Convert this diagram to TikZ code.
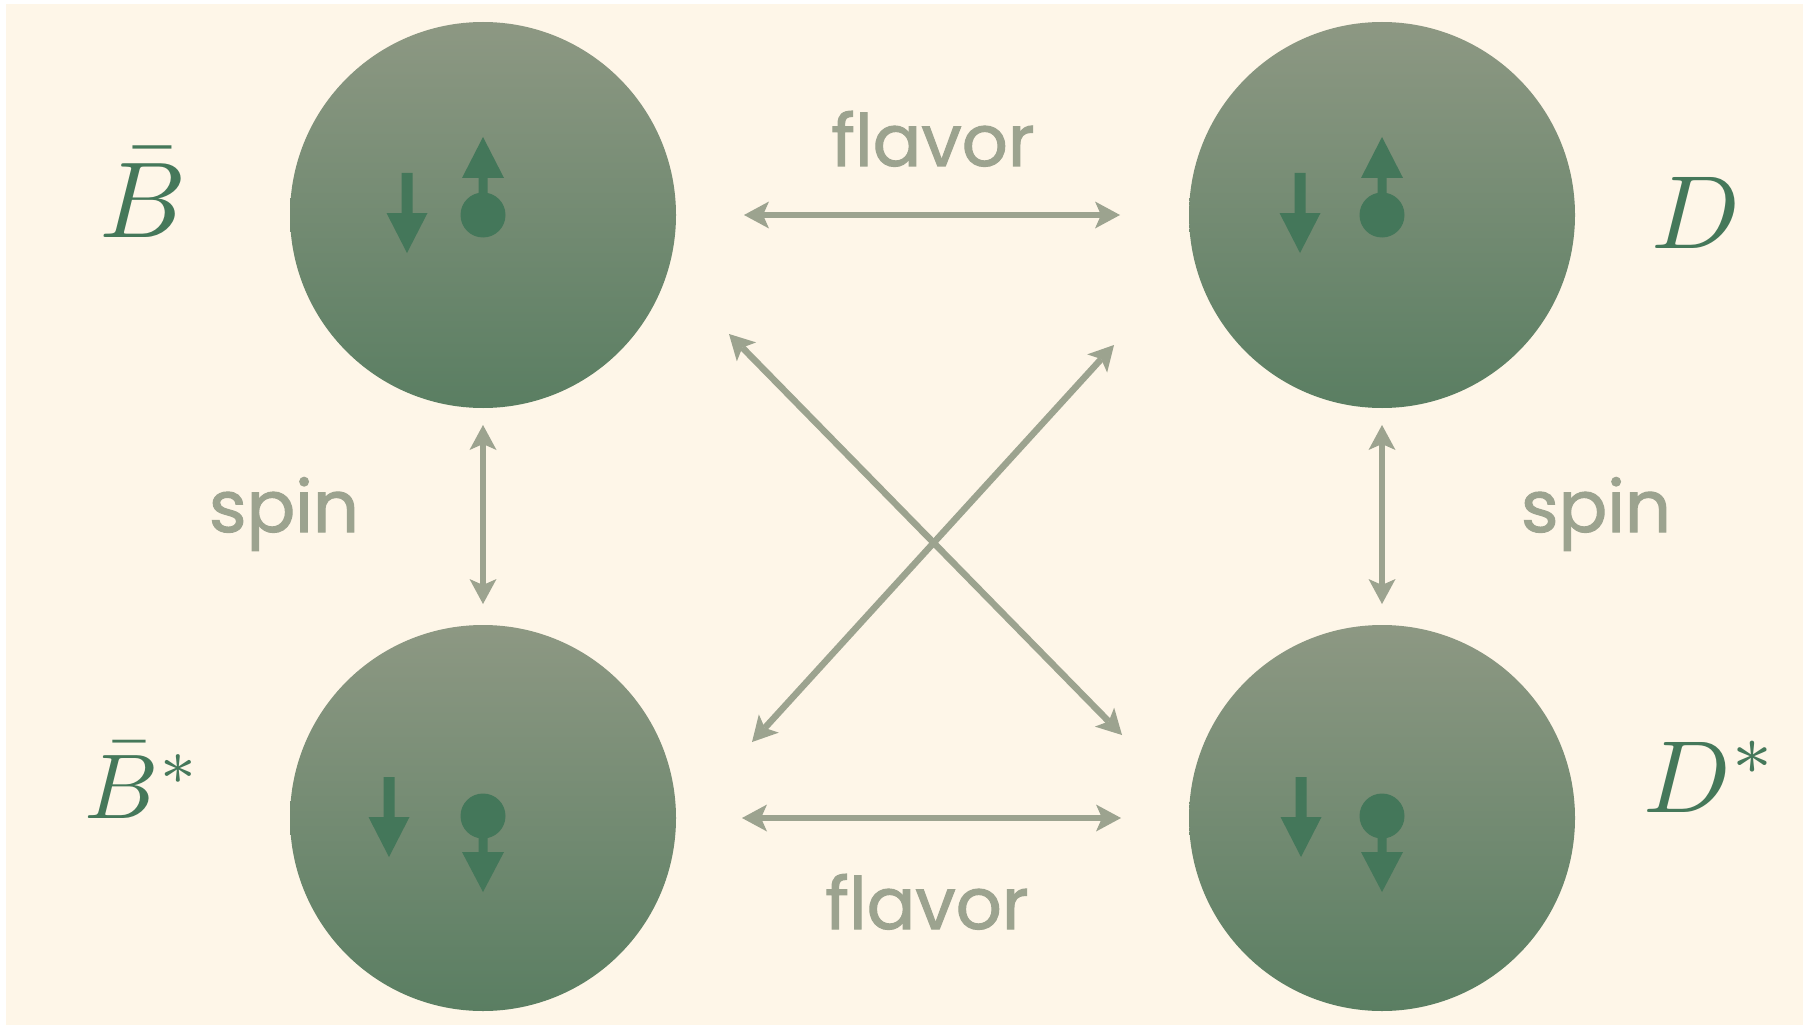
\documentclass[tikz,border=0pt]{standalone}
\usepackage{fontspec}
\newfontfamily\labelfont{Poppins}[FakeBold=1.5]
\usetikzlibrary{arrows.meta,calc}

\definecolor{paper}{HTML}{FEF6E8}
\definecolor{linkgray}{HTML}{9CA38F}
\definecolor{quark}{HTML}{44775A}
\definecolor{mesontext}{HTML}{45785A}
\definecolor{ballTop}{HTML}{8D9883}
\definecolor{ballMid}{HTML}{6F8B70}
\definecolor{ballBot}{HTML}{5A7E62}

\begin{document}
\begin{tikzpicture}[x=1pt,y=-1pt,
  meson/.style={circle,inner sep=0pt,outer sep=0pt,minimum size=386pt,
    top color=ballTop,middle color=ballMid,bottom color=ballBot,draw=none},
  tip/.tip={Stealth[length=25pt,width=27pt,inset=6pt,line width=0pt]},
  linkarrow/.style={color=linkgray,line width=6.5pt,line cap=butt,tip-tip},
  linkword/.style={text=linkgray,font=\labelfont\fontsize{72}{72}\selectfont,
    inner sep=0pt,anchor=base},
  mesonlabel/.style={text=mesontext,inner sep=0pt,anchor=base},
  qdown/.pic={\fill[quark] (-5.5,0) -- (5.5,0) -- (5.5,40) -- (20.5,40) -- (0,80)
      -- (-20.5,40) -- (-5.5,40) -- cycle;},
  qballup/.pic={\fill[quark] (0,0) circle[radius=22.5pt];
    \fill[quark] (-4.5,0) -- (-4.5,-37) -- (-21,-37) -- (0,-78) -- (21,-37)
      -- (4.5,-37) -- (4.5,0) -- cycle;},
  qballdown/.pic={\fill[quark] (0,0) circle[radius=22.5pt];
    \fill[quark] (-4.5,0) -- (-4.5,36) -- (-21,36) -- (0,76) -- (21,36)
      -- (4.5,36) -- (4.5,0) -- cycle;},
]
% page and paper
\useasboundingbox (0,0) rectangle (1803,1027);
\fill[white] (0,0) rectangle (1803,1027);
\fill[paper] (6,4) rectangle (1803,1025);

% the four mesons
\node[meson] (B)  at (483,215) {};
\node[meson] (D)  at (1382,215) {};
\node[meson] (Bs) at (483,818) {};
\node[meson] (Ds) at (1382,818) {};

% quark spins inside each meson
\pic at (407,173) {qdown};
\pic at (483,215) {qballup};
\pic at (1300,173) {qdown};
\pic at (1382,215) {qballup};
\pic at (389,777) {qdown};
\pic at (483,816) {qballdown};
\pic at (1301,777) {qdown};
\pic at (1382,816) {qballdown};

% meson names
\node[mesonlabel,scale=10.8] (lB)  at (143,237) {$\bar{B}$};
\node[mesonlabel,scale=10.4] (lD)  at (1696,248) {$D$};
\node[mesonlabel,scale=9.2]  (lBs) at (143,818) {$\bar{B}^*$};
\node[mesonlabel,scale=10.25] (lDs) at (1711,812) {$D^*$};

% symmetry links
\draw[linkarrow,shorten <=68pt,shorten >=69pt] (B) -- (D);
\draw[linkarrow,shorten <=66pt,shorten >=68pt] (Bs) -- (Ds);
\draw[linkarrow,shorten <=17pt,shorten >=21pt] (B) -- (Bs);
\draw[linkarrow,shorten <=17pt,shorten >=21pt] (D) -- (Ds);
\coordinate (x1) at (729,334);
\coordinate (x2) at (1122,735);
\coordinate (x3) at (752,742);
\coordinate (x4) at (1114,345);
\draw[linkarrow] (x1) -- (x2);
\draw[linkarrow] (x3) -- (x4);

% link labels
\node[linkword] (f1) at (933,166) {flavor};
\node[linkword] (f2) at (927,929) {flavor};
\node[linkword] (s1) at (284,532) {spin};
\node[linkword] (s2) at (1596,532) {spin};
\end{tikzpicture}
\end{document}
